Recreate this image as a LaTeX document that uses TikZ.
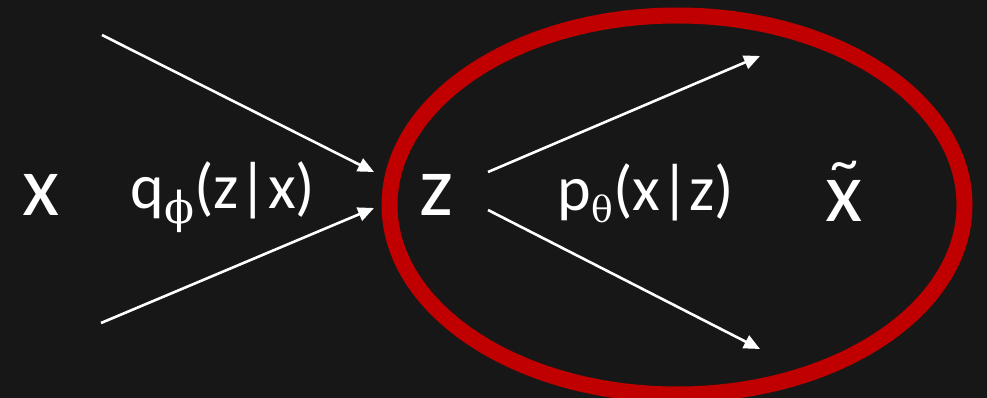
\documentclass[tikz,border=0pt]{standalone}
\usepackage{fontspec}
\setmainfont{Carlito}
\newfontfamily\grk{DejaVu Serif}
\usetikzlibrary{arrows.meta,shapes.geometric}
\definecolor{bg}{HTML}{171717}
\definecolor{darkred}{HTML}{C00000}
\tikzset{
  big/.style={text=white,inner sep=0pt,anchor=base,font=\fontsize{86}{90}\selectfont},
  lbl/.style={text=white,inner sep=0pt,anchor=base,font=\fontsize{64}{70}\selectfont},
  arr/.style={draw=white,line width=2.6pt,-{Triangle[length=16pt,width=14pt]}},
  ring/.style={draw=darkred,line width=16pt,ellipse,inner sep=0pt}
}
\newcommand{\subgr}[3]{\raisebox{#3}{\fontsize{#2}{#2}\grk #1}}
\begin{document}
\begin{tikzpicture}[x=1pt,y=-1pt]
\useasboundingbox (0,0) rectangle (987,398);
\fill[bg] (0,0) rectangle (987,398);
\node[ring,minimum width=575pt,minimum height=379pt] (dec) at (677,205) {};
\node[big] (x) at (41,215) {x};
\node[lbl] (q) at (223,208) {q\subgr{ϕ}{44}{-15pt}(z|x)};
\node[big] (z) at (436,215) {z};
\node[lbl] (p) at (646,211) {p\subgr{θ}{36}{-12pt}(x|z)};
\node[big] (xt) at (844,222) {\ooalign{x\cr\hidewidth\raisebox{40pt}{\fontsize{56}{56}\selectfont\char"007E}\hidewidth\cr}};
\coordinate (a1s) at (102,35);
\coordinate (a1e) at (374,172);
\coordinate (a2s) at (101,323);
\coordinate (a2e) at (374,208);
\coordinate (a3s) at (488,172);
\coordinate (a3e) at (760,56);
\coordinate (a4s) at (488,210);
\coordinate (a4e) at (760,349);
\draw[arr] (a1s) -- (a1e);
\draw[arr] (a2s) -- (a2e);
\draw[arr] (a3s) -- (a3e);
\draw[arr] (a4s) -- (a4e);
\end{tikzpicture}
\end{document}
